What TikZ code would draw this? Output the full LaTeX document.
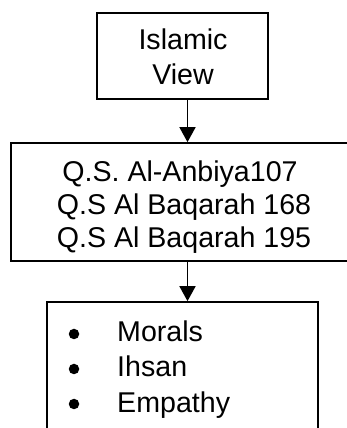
\documentclass[tikz,border=0pt]{standalone}
\usepackage{fontspec}
\setmainfont{Liberation Sans}
\usetikzlibrary{arrows.meta}
\begin{document}
\begin{tikzpicture}[x=1pt,y=1pt,
  boxnode/.style={draw=black,line width=1.7pt,rectangle,inner sep=0pt,anchor=center},
  txt/.style={font=\fontsize{28.6}{34}\selectfont,inner sep=0pt,anchor=base},
  txtw/.style={font=\fontsize{28.6}{34}\selectfont,inner sep=0pt,anchor=base west},
  bul/.style={circle,fill=black,inner sep=0pt,minimum size=10.5pt},
  arr/.style={line width=1.7pt,-{Triangle[width=16pt,length=15pt]}}]
\useasboundingbox (0,0) rectangle (347,428);
\clip (0,0) rectangle (347,428);
\fill[white] (0,0) rectangle (347,428);
% boxes
\node[boxnode,minimum width=171pt,minimum height=86pt] (b1) at (182.5,372) {};
\node[boxnode,minimum width=345pt,minimum height=118pt] (b2) at (183.5,226) {};
\node[boxnode,minimum width=271pt,minimum height=150pt] (b3) at (182.5,51) {};
% texts box 1
\node[txt] (t11) at (183,378) {Islamic};
\node[txt] (t12) at (183,343) {View};
% texts box 2
\node[txt] (t21) at (180,246) {Q.S. Al-Anbiya107};
\node[txt] (t22) at (184,213) {Q.S Al Baqarah 168};
\node[txt] (t23) at (184,180) {Q.S Al Baqarah 195};
% texts box 3
\node[bul] (u1) at (74,94) {};
\node[bul] (u2) at (74,59) {};
\node[bul] (u3) at (74,24) {};
\node[txtw] (t31) at (117,86) {Morals};
\node[txtw] (t32) at (117,51) {Ihsan};
\node[txtw] (t33) at (117,16) {Empathy};
% connectors
\coordinate (ax) at (187.5,0);
\draw[arr] (b1.south -| ax) -- (b2.north -| ax);
\draw[arr] (b2.south -| ax) -- (b3.north -| ax);
\end{tikzpicture}
\end{document}
